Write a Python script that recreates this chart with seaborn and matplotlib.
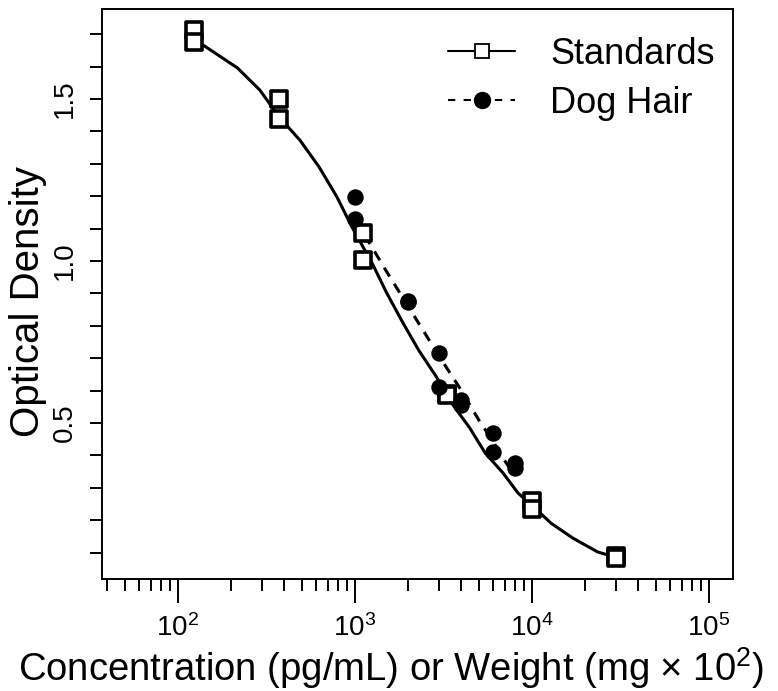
import numpy as np
import pandas as pd
import seaborn as sns
import matplotlib
matplotlib.use('Agg')
import matplotlib.pyplot as plt
from matplotlib.lines import Line2D
from matplotlib.ticker import FixedLocator, FixedFormatter

# standards (three-fold dilution series), duplicate wells
std_conc = [123.5, 123.5, 370, 370, 1111, 1111, 3333, 3333, 10000, 10000, 30000, 30000]
std_od = [1.713, 1.676, 1.500, 1.438, 1.086, 1.003, 0.590, 0.586, 0.260, 0.236, 0.088, 0.084]

# dog hair extracts
hair_wt = [1000, 1000, 2000, 2000, 3000, 3000, 4000, 4000, 6000, 6000, 8000, 8000]
hair_od = [1.198, 1.130, 0.877, 0.873, 0.716, 0.611, 0.570, 0.555, 0.469, 0.410, 0.377, 0.362]

# fitted curves
std_fit_x = [123.5, 217, 290, 374, 489, 628, 791, 962, 1260, 1500, 1855, 2290, 2890,
             3510, 4450, 5450, 6860, 8340, 10700, 12800, 17000, 23500, 30000]
std_fit_y = [1.685, 1.596, 1.528, 1.444, 1.373, 1.290, 1.198, 1.105, 0.990, 0.905, 0.812,
             0.725, 0.642, 0.562, 0.485, 0.407, 0.346, 0.284, 0.231, 0.191, 0.145, 0.102, 0.085]
hair_fit_x = [1000, 1500, 2000, 3000, 4000, 5000, 6000, 7000, 8000]
hair_fit_y = [1.130, 0.970, 0.860, 0.705, 0.600, 0.510, 0.445, 0.385, 0.335]

y_ticks = [0.1, 0.2, 0.3, 0.4, 0.5, 0.6, 0.7, 0.8, 0.9, 1.0, 1.1, 1.2, 1.3, 1.4, 1.5, 1.6, 1.7]
y_labels = ['', '', '', '', '0.5', '', '', '', '', '1.0', '', '', '', '', '1.5', '', '']
x_major = [100, 1000, 10000, 100000]
x_major_labels = ['$10^{2}$', '$10^{3}$', '$10^{4}$', '$10^{5}$']

sns.set_style('ticks', {'axes.edgecolor': 'black', 'text.color': 'black',
                        'xtick.color': 'black', 'ytick.color': 'black'})
plt.rcParams['font.family'] = ['Liberation Sans', 'DejaVu Sans']
plt.rcParams['mathtext.fontset'] = 'custom'
plt.rcParams['mathtext.rm'] = 'Liberation Sans'
plt.rcParams['mathtext.it'] = 'Liberation Sans:italic'
plt.rcParams['mathtext.bf'] = 'Liberation Sans:bold'

std = pd.DataFrame({'x': std_conc, 'y': std_od})
hair = pd.DataFrame({'x': hair_wt, 'y': hair_od})
std_fit = pd.DataFrame({'x': std_fit_x, 'y': std_fit_y})
hair_fit = pd.DataFrame({'x': hair_fit_x, 'y': hair_fit_y})

fig = plt.figure(figsize=(7.78, 6.91), dpi=100)
ax = fig.add_axes([102 / 778, 1 - 579 / 691, (733 - 102) / 778, (579 - 9) / 691])

sns.lineplot(data=std_fit, x='x', y='y', sort=False, estimator=None, color='black',
             lw=2.2, ax=ax)
sns.lineplot(data=hair_fit, x='x', y='y', sort=False, estimator=None, color='black',
             lw=2.2, linestyle=(0, (3.4, 2.8)), ax=ax)
sns.scatterplot(data=std, x='x', y='y', marker='s', s=120, facecolor='white',
                edgecolor='black', linewidth=2.6, ax=ax, zorder=3)
sns.scatterplot(data=hair, x='x', y='y', marker='o', s=140, color='black',
                linewidth=0, ax=ax, zorder=3)

ax.set_xscale('log')
ax.set_xlim(10 ** 1.571, 10 ** 5.136)
ax.set_ylim(0.0185, 1.778)

ax.xaxis.set_major_locator(FixedLocator(x_major))
ax.xaxis.set_major_formatter(FixedFormatter(x_major_labels))
minor = [m * 10 ** e for e in range(1, 5) for m in range(2, 10) if 40 <= m * 10 ** e < 100000]
ax.xaxis.set_minor_locator(FixedLocator(minor))
ax.xaxis.set_minor_formatter(FixedFormatter([''] * len(minor)))
ax.yaxis.set_major_locator(FixedLocator(y_ticks))
ax.yaxis.set_major_formatter(FixedFormatter(y_labels))

ax.tick_params(axis='x', which='major', length=17, width=1.4, labelsize=20, pad=8)
ax.tick_params(axis='x', which='minor', length=8.6, width=1.4)
ax.tick_params(axis='y', which='major', length=8.6, width=1.4, labelsize=20, pad=9,
               labelrotation=90)
for lab in ax.get_yticklabels():
    lab.set_va('center')
for sp in ax.spines.values():
    sp.set_linewidth(1.4)
    sp.set_color('black')

ax.set_xlabel('')
ax.set_ylabel('')
fig.text(391 / 778, 1 - 681 / 691, 'Concentration (pg/mL) or Weight (mg $\\times$ 10$^{2}$)',
         fontsize=27.5, ha='center', va='baseline', color='black')
fig.text(28 / 778, 1 - 302 / 691, 'Optical Density', fontsize=29, rotation=90,
         ha='center', va='center', color='black')

handles = [
    Line2D([], [], color='black', lw=1.5, marker='s', ms=9.5, mfc='white', mew=1.3),
    Line2D([], [], color='black', lw=1.5, linestyle=(0, (3.5, 4)), marker='o', ms=11.5),
]
leg = ax.legend(handles, ['Standards', 'Dog Hair'], loc='upper left', frameon=False,
                bbox_to_anchor=(448 / 778, 1 - 37 / 691), bbox_transform=fig.transFigure,
                fontsize=26, handlelength=1.86, handletextpad=0.97, labelspacing=0.38,
                borderpad=0, borderaxespad=0)
for t in leg.get_texts():
    t.set_color('black')

fig.savefig('out.png', dpi=100)
